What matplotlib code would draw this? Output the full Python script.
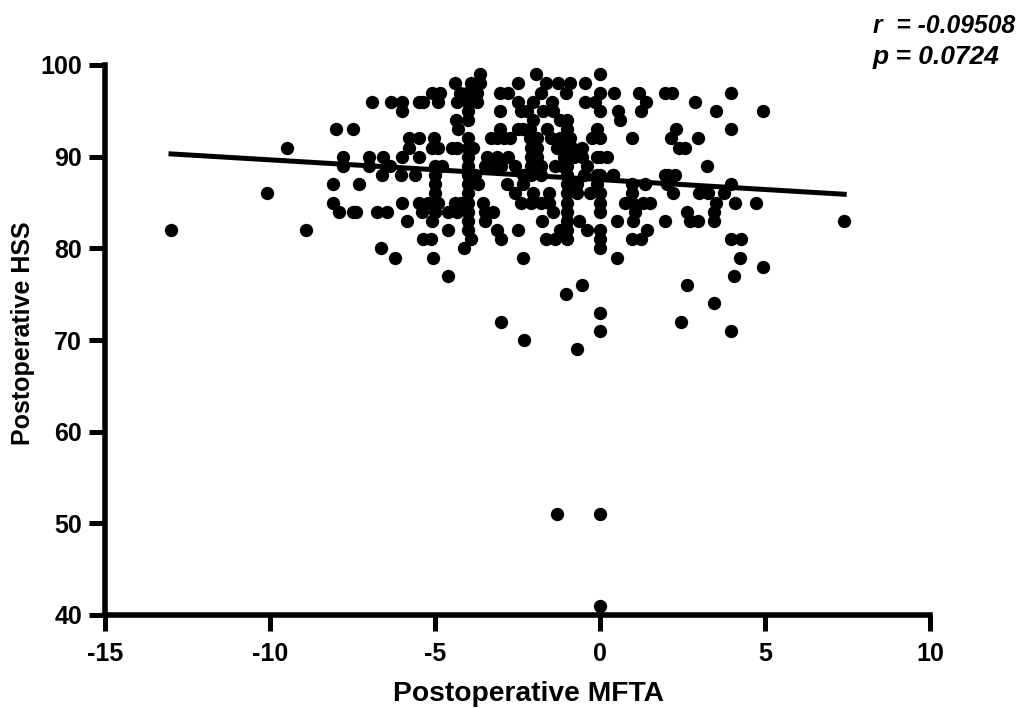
import matplotlib
matplotlib.use('Agg')
import matplotlib.pyplot as plt

plt.rcParams['font.family'] = ['Liberation Sans', 'DejaVu Sans']
plt.rcParams['axes.unicode_minus'] = False

# one line per HSS row
mfta = [
    -3.65, -1.93, 0.0,
    -4.38, -3.65, -3.9, -2.5, -1.65, -1.26, -0.9, -0.45,
    -5.1, -4.85, -4.24, -4.04, -3.74, -3.03, -2.8, -1.8, -1.03, 0.0, 0.42, 1.17, 1.97, 2.17, 3.96,
    -6.9, -6.33, -6.0, -5.5, -5.35, -4.9, -4.33, -4.0, -3.74, -2.5, -2.02, -1.44, -0.45, -0.15, 1.4, 2.88,
    -6.0, -4.0, -3.03, -2.4, -2.2, -1.72, -1.41, 0.0, 0.56, 1.23, 3.5, 4.95,
    -4.37, -4.0, -2.02, -1.2, -1.0, 0.6,
    -8.0, -7.5, -4.3, -3.03, -2.5, -2.32, -2.12, -1.6, -1.0, -0.1, 2.3, 3.96,
    -5.8, -5.5, -5.03, -4.0, -3.3, -3.13, -2.9, -2.73, -2.12, -1.9, -1.5, -1.2, -0.9, -0.25, 0.0, 0.96, 2.14, 2.96,
    -5.8, -5.1, -4.9, -4.5, -4.33, -4.0, -3.84, -2.1, -1.9, -1.3, -1.1, -0.85, -0.55, 2.4, 2.58,
    -7.8, -7.0, -6.58, -6.0, -5.5, -4.0, -3.43, -3.13, -2.8, -2.1, -1.9, -1.1, -0.8, -0.55, -0.1, 0.0, 0.2,
    -7.8, -7.0, -6.36, -5.0, -4.8, -4.0, -3.5, -3.2, -3.0, -2.58, -2.1, -1.8, -1.35, -1.15, -1.0, -0.4, 3.23,
    -6.6, -6.03, -5.6, -5.0, -4.0, -3.8, -2.32, -2.1, -1.8, -1.0, -0.5, -0.1, 0.0, 0.4, 0.38, 1.97, 2.07, 2.27,
    -8.08, -7.3, -5.0, -4.0, -3.7, -2.83, -2.32, -1.0, -0.7, -0.1, 0.96, 1.36, 2.02, 3.96,
    -5.0, -4.0, -2.58, -2.04, -1.54, -1.0, -0.7, -0.3, 0.0, 0.96, 2.22, 3.0, 3.28, 3.76,
    -8.1, -6.0, -5.5, -5.2, -5.0, -4.9, -4.4, -4.2, -4.0, -3.56, -2.4, -2.1, -1.8, -1.55, -1.0, 0.0, 0.76, 0.96, 1.31, 1.5, 3.53, 4.09, 4.73,
    -7.9, -7.5, -7.4, -6.77, -6.44, -5.4, -5.0, -4.6, -4.33, -4.0, -3.5, -3.25, -1.42, -1.0, 0.0, 1.06, 2.63, 3.45,
    -5.85, -5.1, -4.0, -3.5, -1.77, -1.0, -0.63, 1.0, 0.52, 1.97, 2.73, 2.98, 3.45,
    -13.0, -8.9, -4.6, -4.0, -3.13, -2.5, -1.2, -1.0, -0.4, 0.0, 1.43,
    -5.36, -5.13, -3.9, -3.0, -1.63, -1.36, -1.0, 0.0, 0.96, 1.23, 3.96, 4.26,
    -6.65, -4.12, 0.0,
    -6.2, -5.05, -2.32, 0.5, 4.24,
    4.95,
    -4.6, 4.06,
    -0.55, 2.63,
    -1.03,
    3.45,
    0.0,
    -3.0, 2.45,
    0.0, 3.96,
    -2.3,
    -0.7,
    -1.3, 0.0,
    0.0,
    -10.1, -9.5, 7.4,
]
hss = (
    [99] * 3 + [98] * 8 + [97] * 15 + [96] * 16 + [95] * 12 + [94] * 6 + [93] * 12 + [92] * 18
    + [91] * 15 + [90] * 17 + [89] * 17 + [88] * 18 + [87] * 14 + [86] * 14 + [85] * 23
    + [84] * 18 + [83] * 13 + [82] * 11 + [81] * 12 + [80] * 3 + [79] * 5 + [78] + [77] * 2
    + [76] * 2 + [75] + [74] + [73] + [72] * 2 + [71] * 2 + [70] + [69] + [51] * 2 + [41]
    + [86, 91, 83]
)

line_x = [-13.0, 7.4]
line_y = [90.3, 85.9]

x_ticks = [-15, -10, -5, 0, 5, 10]
y_ticks = [40, 50, 60, 70, 80, 90, 100]

fig = plt.figure(figsize=(10.36, 7.10), dpi=100)
ax = fig.add_axes([105 / 1036, 1 - 615 / 710, 825 / 1036, 550 / 710])

ax.scatter(mfta, hss, s=92, color='black', linewidths=0, clip_on=False, zorder=3)
ax.plot(line_x, line_y, color='black', lw=3.6, zorder=4)

ax.set_xlim(-15, 10)
ax.set_ylim(40, 100)
ax.set_xticks(x_ticks)
ax.set_yticks(y_ticks)
ax.tick_params(width=3.6, length=11.5, labelsize=18)
ax.tick_params(axis='x', pad=8)
ax.tick_params(axis='y', pad=5)
for lab in ax.get_xticklabels() + ax.get_yticklabels():
    lab.set_fontweight('bold')

ax.spines['top'].set_visible(False)
ax.spines['right'].set_visible(False)
ax.spines['left'].set_linewidth(4)
ax.spines['bottom'].set_linewidth(4)

ax.set_xlabel('Postoperative MFTA', fontsize=20.3, fontweight='bold', labelpad=11, x=0.513)
ax.set_ylabel('Postoperative HSS', fontsize=18, fontweight='bold', labelpad=4, y=0.512)

fig.text(873 / 1036, 1 - 33 / 710, 'r  = -0.09508', fontsize=17.7, fontweight='bold', style='italic')
fig.text(873 / 1036, 1 - 64 / 710, 'p = 0.0724', fontsize=19, fontweight='bold', style='italic')

fig.savefig('out.png', dpi=100)
